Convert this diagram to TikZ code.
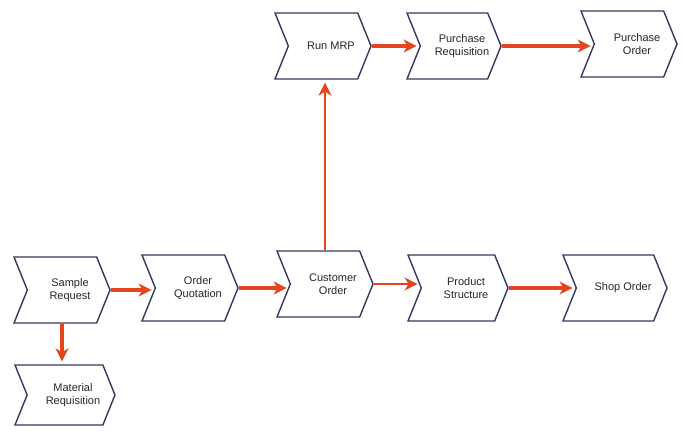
\documentclass[tikz,border=0pt]{standalone}
\usepackage{fontspec}
\setmainfont{Liberation Sans}
\usetikzlibrary{shapes.symbols}
\usetikzlibrary{arrows.meta}
\definecolor{flowred}{RGB}{228,68,30}
\definecolor{boxline}{RGB}{55,55,95}

\begin{document}
\begin{tikzpicture}[x=1pt,y=1pt,font=\fontsize{11}{12.5}\selectfont]
	\tikzstyle{every node}=[text=black!85]
	\tikzstyle{chev} =[signal,signal to=east,signal from=west,signal pointer angle=136,draw=boxline,fill=white,line width=1.4pt,minimum width=96pt,minimum height=66pt,inner sep=0pt]
	\tikzstyle{lbl} =[xshift=8pt,align=center,inner sep=0pt]
	\tikzstyle{flow} =[-{Stealth[length=13pt,width=13pt,inset=4pt]},draw=flowred,line width=3.2pt,shorten >=3pt]
	\useasboundingbox (0,0) rectangle (684,436);

	% lower row
	\node (SR)[chev] at (62,146) {};
	\node (MR)[chev,minimum width=100pt,minimum height=60pt] at (65,41) {};
	\node (OQ)[chev] at (190,148) {};
	\node (CO)[chev] at (325,152) {};
	\node (PS)[chev,minimum width=100pt] at (458,148) {};
	\node (SO)[chev,minimum width=104pt] at (615,148) {};
	% upper row
	\node (RM)[chev] at (323,390) {};
	\node (PR)[chev,minimum width=94pt] at (454,390) {};
	\node (PO)[chev] at (629,392) {};

	\node (SRt)[lbl] at (SR.center) {Sample\\Request};
	\node (MRt)[lbl] at (MR.center) {Material\\Requisition};
	\node (OQt)[lbl] at (OQ.center) {Order\\Quotation};
	\node (COt)[lbl] at (CO.center) {Customer\\Order};
	\node (PSt)[lbl] at (PS.center) {Product\\Structure};
	\node (SOt)[lbl] at (SO.center) {Shop Order};
	\node (RMt)[lbl] at (RM.center) {Run MRP};
	\node (PRt)[lbl] at (PR.center) {Purchase\\Requisition};
	\node (POt)[lbl] at (PO.center) {Purchase\\Order};

	\draw[flow] (SR.east) to (SR.east -| OQ.west) ;
	\draw[flow] (OQ.east) to (OQ.east -| CO.west) ;
	\draw[flow,line width=1.6pt] (CO.east) to (CO.east -| PS.west) ;
	\draw[flow] (PS.east) to (SO.west) ;
	\draw[flow] (SR.south) to (SR.south |- MR.north) ;
	\draw[flow,line width=2pt] (CO.north) to (CO.north |- RM.south) ;
	\draw[flow] (RM.east) to (PR.west) ;
	\draw[flow] (PR.east) to (PR.east -| PO.west) ;
\end{tikzpicture}
\end{document}
